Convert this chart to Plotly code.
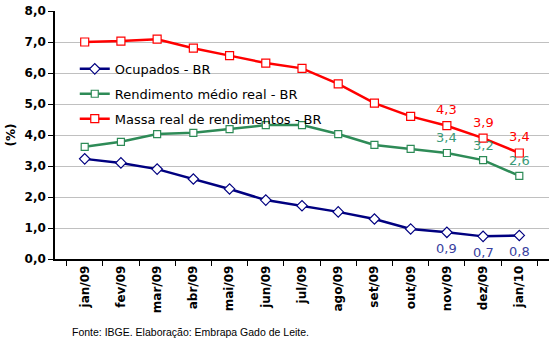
import plotly.graph_objects as go

months = ["jan/09", "fev/09", "mar/09", "abr/09", "mai/09", "jun/09", "jul/09",
          "ago/09", "set/09", "out/09", "nov/09", "dez/09", "jan/10"]
ocupados = [3.23, 3.10, 2.90, 2.58, 2.26, 1.90, 1.72, 1.52, 1.29, 0.97, 0.86, 0.73, 0.76]
rendimento = [3.62, 3.78, 4.03, 4.07, 4.19, 4.32, 4.32, 4.03, 3.68, 3.55, 3.42, 3.19, 2.68]
massa = [7.00, 7.03, 7.09, 6.80, 6.56, 6.32, 6.15, 5.65, 5.03, 4.60, 4.30, 3.90, 3.42]
ocup_labels = [""] * 10 + ["0,9", "0,7", "0,8"]
rend_labels = [""] * 10 + ["3,4", "3,2", "2,6"]
massa_labels = [""] * 10 + ["4,3", "3,9", "3,4"]
y_ticks = [0, 1, 2, 3, 4, 5, 6, 7, 8]

FONT = "DejaVu Sans"

series = [
    ("Ocupados - BR", ocupados, ocup_labels, "#000080", "diamond", 8, "#3a3fa0", -16),
    ("Rendimento médio real - BR", rendimento, rend_labels, "#2e8b57", "square", 7, "#3a9a78", 15),
    ("Massa real de rendimentos - BR", massa, massa_labels, "#ff0000", "square", 8, "#ff0000", 16),
]

fig = go.Figure()
for i, (name, vals, labels, color, sym, msize, tcolor, shift) in enumerate(series):
    fig.add_trace(go.Scatter(
        x=months, y=vals, name=name, mode="lines+markers", legendgroup=f"g{i}",
        line=dict(color=color, width=2.5),
        marker=dict(symbol=sym, size=msize, color="white", line=dict(color=color, width=1.2)),
    ))
    for m, v, t in zip(months, vals, labels):
        if t:
            fig.add_annotation(x=m, y=v, text=t, showarrow=False, yshift=shift,
                               font=dict(family=FONT, size=13, color=tcolor))

fig.update_layout(
    width=557, height=343,
    margin=dict(l=55, r=8, t=11, b=84),
    paper_bgcolor="white", plot_bgcolor="white",
    separators=",.",
    showlegend=True,
    legend=dict(x=0.04, y=0.827, xanchor="left", yanchor="top",
                bgcolor="rgba(0,0,0,0)", font=dict(family=FONT, size=13, color="black"),
                tracegroupgap=5, itemwidth=30),
    font=dict(family=FONT, color="black"),
)
fig.update_xaxes(
    type="category", tickangle=-90, showgrid=False, automargin=False,
    showline=True, linecolor="black", linewidth=1.5,
    ticks="outside", ticklen=5, tickcolor="black", tickson="boundaries",
    tickfont=dict(family=FONT, size=12, color="black", weight="bold"),
)
fig.update_yaxes(
    range=[0, 8], tickvals=y_ticks, tickformat=".1f", automargin=False,
    showgrid=True, gridcolor="#c0c0c0", gridwidth=1,
    showline=True, linecolor="black", linewidth=1.5,
    ticks="outside", ticklen=5, tickcolor="black",
    tickfont=dict(family=FONT, size=12, color="black", weight="bold"),
    title=dict(text="(%)", font=dict(family=FONT, size=12, weight="bold"), standoff=6),
    zeroline=False,
)
fig.add_annotation(
    text="Fonte: IBGE. Elaboração: Embrapa Gado de Leite.",
    xref="paper", yref="paper", x=0.03, y=-0.294, xanchor="left", yanchor="middle",
    showarrow=False, font=dict(family="Liberation Sans", size=10.5, color="black"),
)
fig.write_html("out.html")
